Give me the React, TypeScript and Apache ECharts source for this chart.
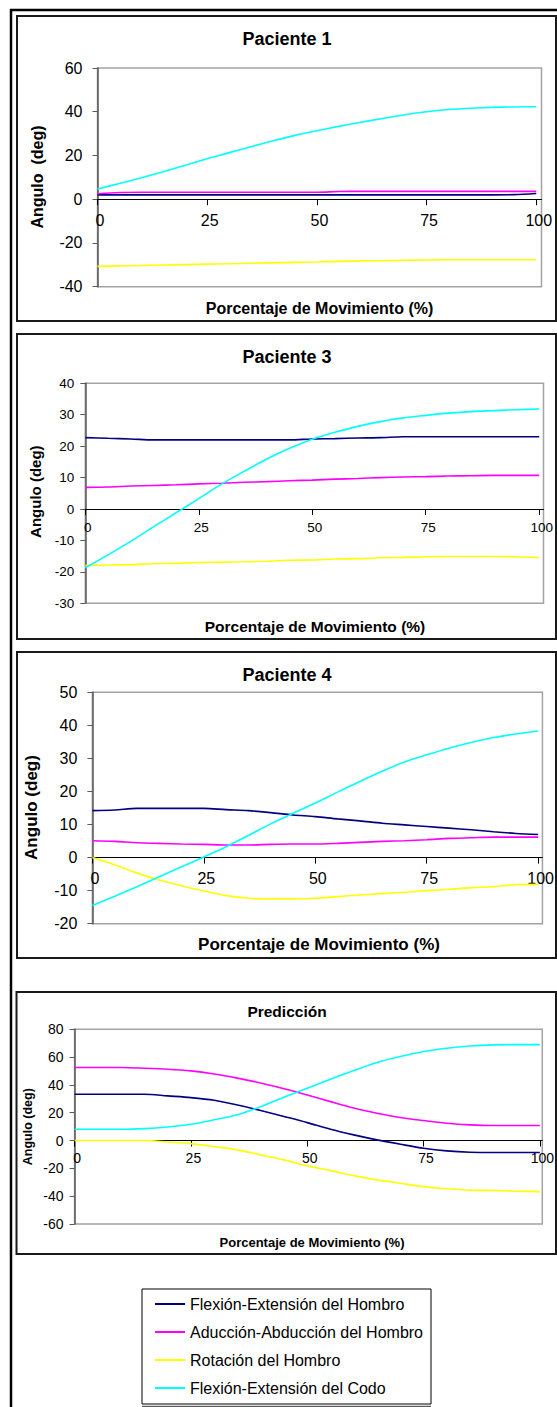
import React, { useEffect, useRef } from 'react';
import * as echarts from 'echarts';

const FONT = '"Liberation Sans", Arial, Helvetica, sans-serif';

// ---- data ----
const SERIES_NAMES = [
  'Flexión-Extensión del Hombro',
  'Aducción-Abducción del Hombro',
  'Rotación del Hombro',
  'Flexión-Extensión del Codo',
];
const SERIES_COLORS = ['#000080', '#FF00FF', '#FFFF00', '#00FFFF'];
const PERCENT = [0, 5, 10, 15, 20, 25, 30, 35, 40, 45, 50, 55, 60, 65, 70, 75, 80, 85, 90, 95, 100];
const X_TICKS = [0, 25, 50, 75, 100];
const PANEL_TITLES = ['Paciente 1', 'Paciente 3', 'Paciente 4', 'Predicción'];
const X_AXIS_NAME = 'Porcentaje de Movimiento (%)';
const Y_AXIS_NAMES = ['Angulo  (deg)', 'Angulo (deg)', 'Angulo (deg)', 'Angulo (deg)'];

// Paciente 1
const P1_FLEX_HOMBRO = [2, 2, 2, 2, 2, 2, 2, 2, 2, 2, 2, 2, 2, 2, 2, 2, 2, 2, 2, 2.1, 2.6];
const P1_ADUC_HOMBRO = [2.5, 3.1, 3.2, 3.2, 3.2, 3.2, 3.2, 3.2, 3.2, 3.2, 3.2, 3.5, 3.6, 3.6, 3.6, 3.6, 3.6, 3.6, 3.6, 3.6, 3.6];
const P1_ROT_HOMBRO = [-30.7, -30.5, -30.3, -30.1, -29.9, -29.7, -29.5, -29.3, -29.1, -28.9, -28.7, -28.4, -28.2, -28.1, -27.9, -27.8, -27.7, -27.7, -27.7, -27.7, -27.7];
const P1_FLEX_CODO = [4.7, 7.2, 9.8, 12.6, 15.5, 18.5, 21.3, 24, 26.7, 29.2, 31.3, 33.3, 35.2, 36.9, 38.6, 40, 41, 41.6, 42, 42.2, 42.3];

// Paciente 3
const P3_FLEX_HOMBRO = [22.7, 22.5, 22.3, 22, 22, 22, 22, 22, 22, 22, 22.3, 22.4, 22.6, 22.7, 23, 23, 23, 23, 23, 23, 23];
const P3_ADUC_HOMBRO = [6.9, 7, 7.3, 7.5, 7.7, 8, 8.2, 8.5, 8.7, 9, 9.2, 9.5, 9.7, 10, 10.2, 10.3, 10.5, 10.6, 10.7, 10.7, 10.7];
const P3_ROT_HOMBRO = [-18, -17.8, -17.7, -17.4, -17.3, -17, -16.9, -16.8, -16.6, -16.3, -16.2, -15.9, -15.8, -15.5, -15.4, -15.2, -15.1, -15.1, -15.1, -15.2, -15.5];
const P3_FLEX_CODO = [-18.7, -14.6, -10.3, -5.7, -1.2, 3.3, 7.9, 12, 15.9, 19.3, 22.2, 24.4, 26.3, 27.8, 29, 29.8, 30.5, 31, 31.3, 31.6, 31.8];

// Paciente 4
const P4_FLEX_HOMBRO = [14.2, 14.4, 14.9, 14.9, 14.9, 14.9, 14.5, 14.2, 13.6, 12.9, 12.4, 11.7, 11.1, 10.4, 9.9, 9.4, 8.9, 8.4, 7.8, 7.3, 7.0];
const P4_ADUC_HOMBRO = [5.1, 4.9, 4.5, 4.3, 4.1, 4, 3.8, 3.8, 4, 4.1, 4.1, 4.3, 4.6, 4.9, 5.1, 5.4, 5.8, 6, 6.2, 6.2, 6.2];
const P4_ROT_HOMBRO = [0, -2.2, -4.7, -6.8, -8.5, -10.1, -11.5, -12.3, -12.5, -12.5, -12.3, -11.8, -11.3, -10.9, -10.5, -10, -9.6, -9.1, -8.8, -8.2, -8.1];
const P4_FLEX_CODO = [-14.5, -11.7, -8.8, -5.8, -2.8, 0.2, 3.3, 6.7, 10.2, 13.4, 16.5, 19.8, 23, 26.1, 28.9, 31.1, 33.1, 34.8, 36.3, 37.4, 38.3];

// Predicción
const PR_FLEX_HOMBRO = [33.3, 33.3, 33.3, 33.3, 32.1, 30.9, 29, 25.6, 21.6, 17.3, 12.9, 8.1, 4.1, 0.5, -2.6, -5.5, -7.4, -8.4, -8.6, -8.6, -8.6];
const PR_ADUC_HOMBRO = [52.5, 52.5, 52.5, 52, 51.3, 50.1, 47.9, 44.9, 41.4, 37.3, 32.8, 28, 23.4, 19.7, 16.6, 14.4, 12.5, 11.3, 10.8, 10.8, 10.8];
const PR_ROT_HOMBRO = [0, 0, 0, 0, -1, -2.2, -4.3, -6.7, -10.3, -13.9, -18.2, -21.6, -25.2, -28.3, -30.7, -33.1, -34.7, -35.7, -35.9, -36.4, -36.7];
const PR_FLEX_CODO = [8.1, 8.1, 8.1, 8.6, 9.8, 11.7, 14.9, 18.5, 24.4, 31.2, 37.6, 44.1, 50.3, 56.1, 60.4, 64, 66.4, 68, 68.8, 69, 69];

const PANEL_SERIES = [
  [P1_FLEX_HOMBRO, P1_ADUC_HOMBRO, P1_ROT_HOMBRO, P1_FLEX_CODO],
  [P3_FLEX_HOMBRO, P3_ADUC_HOMBRO, P3_ROT_HOMBRO, P3_FLEX_CODO],
  [P4_FLEX_HOMBRO, P4_ADUC_HOMBRO, P4_ROT_HOMBRO, P4_FLEX_CODO],
  [PR_FLEX_HOMBRO, PR_ADUC_HOMBRO, PR_ROT_HOMBRO, PR_FLEX_CODO],
];
const Y_MIN = [-40, -30, -20, -60];
const Y_MAX = [60, 40, 50, 80];
const Y_STEP = [20, 10, 10, 20];

// ---- layout (pixels) ----
const LAYOUT = [
  {
    box: [17, 16, 539, 305], grid: [97.5, 68, 444, 218.7], xMax: 101.2,
    title: [287, 39, 18], yName: [37, 177, 16], xName: [319.5, 308.3, 16],
    tickFont: 16, yMargin: 15, xMargin: 13,
  },
  {
    box: [17, 334, 539, 305], grid: [85.3, 383.3, 458.2, 220], xMax: 100.95,
    title: [287, 356.7, 18], yName: [35.5, 491.7, 15], xName: [315, 626.7, 15.5],
    tickFont: 13.5, yMargin: 11, xMargin: 11,
  },
  {
    box: [17, 652, 539, 306], grid: [92.4, 692.3, 451.1, 231.4], xMax: 100.96,
    title: [287, 675, 18], yName: [31.3, 807.5, 17], xName: [319, 944.3, 17],
    tickFont: 16, yMargin: 15, xMargin: 13,
  },
  {
    box: [16.5, 992, 539.5, 262], grid: [74.6, 1029.3, 471.4, 194.7], xMax: 100.53,
    title: [287, 1011.7, 15.5], yName: [28.4, 1126.7, 12.5], xName: [312, 1242.7, 13],
    tickFont: 14, yMargin: 11, xMargin: 10.5,
  },
];

function buildOption() {
  const grid: any[] = [];
  const xAxis: any[] = [];
  const yAxis: any[] = [];
  const series: any[] = [];
  const graphic: any[] = [];

  // outer frame
  graphic.push({ type: 'line', shape: { x1: 10, y1: 10, x2: 560, y2: 10 }, style: { stroke: '#000', lineWidth: 2.5 } });
  graphic.push({ type: 'line', shape: { x1: 11, y1: 9, x2: 11, y2: 1410 }, style: { stroke: '#000', lineWidth: 2.5 } });

  LAYOUT.forEach((L, i) => {
    const [gl, gt, gw, gh] = L.grid;
    const zeroOffset = -gh * (0 - Y_MIN[i]) / (Y_MAX[i] - Y_MIN[i]);
    grid.push({ left: gl, top: gt, width: gw, height: gh, show: true, borderColor: '#a3a3a3', borderWidth: 1.5, backgroundColor: 'transparent' });
    xAxis.push({
      type: 'value', gridIndex: i, min: 0, max: L.xMax, position: 'bottom', offset: zeroOffset,
      axisLine: { onZero: false, lineStyle: { color: '#000', width: 1 } },
      axisTick: { show: true, length: 6, lineStyle: { color: '#000', width: 1 }, customValues: X_TICKS },
      axisLabel: {
        fontSize: L.tickFont, color: '#000', margin: L.xMargin, fontFamily: FONT,
        customValues: X_TICKS, showMinLabel: true, showMaxLabel: true, padding: [0, 0, 0, 5],
        formatter: (v: number) => (X_TICKS.indexOf(v) >= 0 ? String(v) : ''),
      },
      splitLine: { show: false },
    });
    yAxis.push({
      type: 'value', gridIndex: i, min: Y_MIN[i], max: Y_MAX[i], interval: Y_STEP[i],
      axisLine: { show: true, onZero: false, lineStyle: { color: '#5a5a5a', width: 1.5 } },
      axisTick: { show: true, length: 5, lineStyle: { color: '#5a5a5a', width: 1 } },
      axisLabel: { fontSize: L.tickFont, color: '#000', margin: L.yMargin, fontFamily: FONT },
      splitLine: { show: false },
    });
    PANEL_SERIES[i].forEach((vals, s) => {
      series.push({
        type: 'line', name: SERIES_NAMES[s], xAxisIndex: i, yAxisIndex: i,
        data: PERCENT.map((x, k) => [x, vals[k]]),
        showSymbol: false, symbol: 'none', smooth: 0.3,
        color: SERIES_COLORS[s],
        itemStyle: { color: SERIES_COLORS[s] },
        lineStyle: { color: SERIES_COLORS[s], width: 1.6 },
        z: 3 + s,
      });
    });

    const [bx, by, bw, bh] = L.box;
    graphic.push({ type: 'rect', shape: { x: bx, y: by, width: bw, height: bh }, style: { fill: 'none', stroke: '#1a1a1a', lineWidth: 2 } });
    graphic.push({ type: 'text', x: L.title[0], y: L.title[1], style: { text: PANEL_TITLES[i], font: `bold ${L.title[2]}px ${FONT}`, fill: '#000', textAlign: 'center', textVerticalAlign: 'middle' } });
    graphic.push({ type: 'text', x: L.xName[0], y: L.xName[1], style: { text: X_AXIS_NAME, font: `bold ${L.xName[2]}px ${FONT}`, fill: '#000', textAlign: 'center', textVerticalAlign: 'middle' } });
    graphic.push({ type: 'text', x: L.yName[0], y: L.yName[1], rotation: Math.PI / 2, style: { text: Y_AXIS_NAMES[i], font: `bold ${L.yName[2]}px ${FONT}`, fill: '#000', textAlign: 'center', textVerticalAlign: 'middle' } });
  });

  // legend double bottom line
  graphic.push({ type: 'line', shape: { x1: 142, y1: 1406.3, x2: 431, y2: 1406.3 }, style: { stroke: '#333', lineWidth: 1 } });

  return {
    animation: false,
    backgroundColor: '#fff',
    textStyle: { fontFamily: FONT },
    grid, xAxis, yAxis, series, graphic,
    legend: {
      data: SERIES_NAMES, orient: 'vertical', left: 142, top: 1289,
      padding: [6, 8, 7, 13], itemWidth: 30, itemHeight: 2, itemGap: 10,
      icon: 'rect', selectedMode: false,
      borderColor: '#000', borderWidth: 1, backgroundColor: '#fff',
      textStyle: { fontSize: 16, color: '#000', fontFamily: FONT, lineHeight: 18 },
    },
  };
}

export default function App() {
  const ref = useRef<HTMLDivElement>(null);
  useEffect(() => {
    if (!ref.current) return;
    const chart = echarts.init(ref.current, null, { renderer: 'svg' });
    chart.setOption(buildOption() as any);
    return () => chart.dispose();
  }, []);
  return <div ref={ref} style={{ position: 'absolute', left: 0, top: 0, width: 557, height: 1407 }} />;
}
